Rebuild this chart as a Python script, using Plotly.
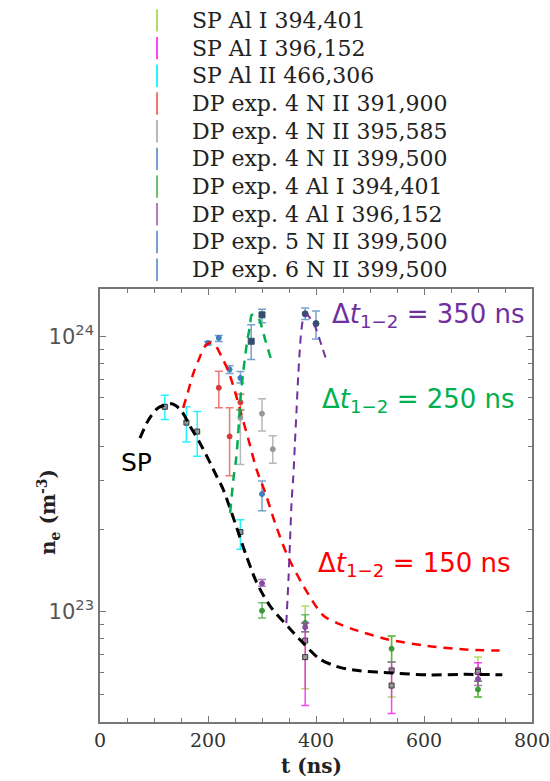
import plotly.graph_objects as go

# ---------------- data (t in ns, n_e in m^-3) ----------------
# SP Al I 394,401
sp_al1_394_t = [380, 540, 700]
sp_al1_394_n = [7.87e22, 6.13e22, 6.13e22]
sp_al1_394_hi = [1.05e23, 8.17e22, 6.85e22]
sp_al1_394_lo = [5.26e22, 4.91e22, 4.91e22]
# SP Al I 396,152
sp_al1_396_t = [380, 540, 700]
sp_al1_396_n = [6.85e22, 5.40e22, 6.05e22]
sp_al1_396_hi = [9.12e22, 6.57e22, 6.54e22]
sp_al1_396_lo = [4.57e22, 4.27e22, 5.60e22]
# SP Al II 466,306
sp_al2_466_t = [120, 160, 180, 260]
sp_al2_466_n = [5.56e23, 4.87e23, 4.52e23, 1.95e23]
sp_al2_466_hi = [6.12e23, 5.56e23, 5.34e23, 2.16e23]
sp_al2_466_lo = [5.00e23, 4.14e23, 3.68e23, 1.69e23]
# DP exp. 4 N II 391,900
dp4_n2_391_t = [220, 240, 260]
dp4_n2_391_n = [6.52e23, 4.34e23, 5.77e23]
dp4_n2_391_hi = [7.49e23, 5.52e23, 6.17e23]
dp4_n2_391_lo = [5.52e23, 3.12e23, 5.40e23]
# DP exp. 4 N II 395,585
dp4_n2_395_t = [260, 300, 320]
dp4_n2_395_n = [5.07e23, 5.25e23, 3.90e23]
dp4_n2_395_hi = [5.43e23, 5.95e23, 4.36e23]
dp4_n2_395_lo = [3.43e23, 4.54e23, 3.47e23]
# DP exp. 4 N II 399,500
dp4_n2_399_t = [200, 220, 240, 260, 300]
dp4_n2_399_n = [9.49e23, 9.89e23, 7.59e23, 7.08e23, 2.68e23]
dp4_n2_399_hi = [9.60e23, 1.01e24, 7.83e23, 7.47e23, 2.99e23]
dp4_n2_399_lo = [9.33e23, 9.60e23, 7.35e23, 6.78e23, 2.33e23]
# DP exp. 4 Al I 394,401
dp4_al1_394_t = [300, 380, 540, 700]
dp4_al1_394_n = [1.01e23, 9.12e22, 7.35e22, 5.23e22]
dp4_al1_394_hi = [1.08e23, 9.77e22, 8.17e22, 5.60e22]
dp4_al1_394_lo = [9.50e22, 8.47e22, 6.57e22, 4.91e22]
# DP exp. 4 Al I 396,152
dp4_al1_396_t = [300, 380, 700]
dp4_al1_396_n = [1.27e23, 8.80e22, 5.70e22]
dp4_al1_396_hi = [1.31e23, 9.12e22, 6.00e22]
dp4_al1_396_lo = [1.24e23, 8.47e22, 5.40e22]
# DP exp. 5 N II 399,500
dp5_n2_399_t = [280, 300]
dp5_n2_399_n = [9.62e23, 1.20e24]
dp5_n2_399_hi = [1.105e24, 1.256e24]
dp5_n2_399_lo = [8.26e23, 1.124e24]
# DP exp. 6 N II 399,500
dp6_n2_399_t = [380, 400]
dp6_n2_399_n = [1.21e24, 1.115e24]
dp6_n2_399_hi = [1.27e24, 1.24e24]
dp6_n2_399_lo = [1.153e24, 9.80e23]

# model curves
sp_curve_t = [74, 90, 108, 133, 150, 167, 185, 204, 216, 228, 250, 269, 290, 315,
              352, 370, 407, 444, 481, 540, 611, 673, 745]
sp_curve_n = [4.28e23, 4.99e23, 5.51e23, 5.70e23, 5.40e23, 4.72e23, 4.11e23, 3.48e23,
              3.11e23, 2.79e23, 2.11e23, 1.64e23, 1.28e23, 1.05e23, 8.67e22, 7.94e22,
              6.74e22, 6.29e22, 6.11e22, 6.00e22, 5.90e22, 5.93e22, 5.91e22]
dt150_t = [154, 164, 173, 184, 194, 204, 213, 225, 238, 250, 262, 275, 290, 306, 324,
           346, 377, 414, 444, 478, 531, 605, 685, 740]
dt150_n = [5.51e23, 6.41e23, 7.37e23, 8.35e23, 9.20e23, 9.50e23, 9.33e23, 8.47e23,
           7.47e23, 6.31e23, 5.20e23, 4.22e23, 3.29e23, 2.71e23, 2.11e23, 1.62e23,
           1.24e23, 9.68e22, 9.02e22, 8.53e22, 7.96e22, 7.53e22, 7.28e22, 7.24e22]
dt250_t = [241, 247, 252, 256, 260, 265, 272, 278, 281, 293, 306, 318]
dt250_n = [2.29e23, 3.03e23, 3.58e23, 4.47e23, 5.90e23, 7.37e23, 9.46e23, 1.10e24,
           1.20e24, 1.17e24, 9.73e23, 8.11e23]
dt350_t = [345, 349, 352, 355, 358, 361, 364, 367, 370, 373, 377, 383, 398, 411, 420]
dt350_n = [9.10e22, 1.31e23, 1.83e23, 2.56e23, 3.11e23, 4.11e23, 5.42e23, 7.16e23,
           8.95e23, 1.06e24, 1.17e24, 1.20e24, 1.09e24, 9.20e23, 8.13e23]

x_tick_vals = [0, 200, 400, 600, 800]
y_tick_vals = [1e23, 1e24]
y_tick_text = ["10<sup>23</sup>", "10<sup>24</sup>"]
y_minor_vals = [4e22, 5e22, 6e22, 7e22, 8e22, 9e22,
                2e23, 3e23, 4e23, 5e23, 6e23, 7e23, 8e23, 9e23]

# ---------------- figure ----------------
fig = go.Figure()

series = [
    ("SP Al I 394,401", sp_al1_394_t, sp_al1_394_n, sp_al1_394_hi, sp_al1_394_lo,
     "rgba(154,205,50,0.75)", "square", "#9a9a9a", "#333333", 5),
    ("SP Al I 396,152", sp_al1_396_t, sp_al1_396_n, sp_al1_396_hi, sp_al1_396_lo,
     "rgba(255,0,255,0.75)", "square", "#9a9a9a", "#333333", 5),
    ("SP Al II 466,306", sp_al2_466_t, sp_al2_466_n, sp_al2_466_hi, sp_al2_466_lo,
     "rgba(0,240,255,0.85)", "square", "#8a9a9a", "#333333", 5),
    ("DP exp. 4 N II 391,900", dp4_n2_391_t, dp4_n2_391_n, dp4_n2_391_hi, dp4_n2_391_lo,
     "rgba(230,60,60,0.7)", "circle", "#d43a3a", "#d43a3a", 5),
    ("DP exp. 4 N II 395,585", dp4_n2_395_t, dp4_n2_395_n, dp4_n2_395_hi, dp4_n2_395_lo,
     "rgba(160,160,160,0.75)", "circle", "#999999", "#999999", 5),
    ("DP exp. 4 N II 399,500", dp4_n2_399_t, dp4_n2_399_n, dp4_n2_399_hi, dp4_n2_399_lo,
     "rgba(70,130,190,0.75)", "circle", "#3f7fbf", "#3f7fbf", 5),
    ("DP exp. 4 Al I 394,401", dp4_al1_394_t, dp4_al1_394_n, dp4_al1_394_hi, dp4_al1_394_lo,
     "rgba(60,170,60,0.75)", "circle", "#3a9a3a", "#3a9a3a", 5),
    ("DP exp. 4 Al I 396,152", dp4_al1_396_t, dp4_al1_396_n, dp4_al1_396_hi, dp4_al1_396_lo,
     "rgba(150,80,170,0.75)", "circle", "#8a4aa0", "#8a4aa0", 5),
    ("DP exp. 5 N II 399,500", dp5_n2_399_t, dp5_n2_399_n, dp5_n2_399_hi, dp5_n2_399_lo,
     "rgba(70,130,190,0.75)", "square", "#34506e", "#34506e", 6),
    ("DP exp. 6 N II 399,500", dp6_n2_399_t, dp6_n2_399_n, dp6_n2_399_hi, dp6_n2_399_lo,
     "rgba(70,130,190,0.75)", "circle", "#34506e", "#34506e", 6),
]

for name, t, n, hi, lo, ecol, sym, mfill, mline, msize in series:
    fig.add_trace(go.Scatter(
        x=t, y=n, mode="markers", name=name, legendgroup=name, showlegend=False,
        marker=dict(symbol=sym, size=msize, color=mfill, line=dict(color=mline, width=1)),
        error_y=dict(type="data", symmetric=False,
                     array=[h - c for h, c in zip(hi, n)],
                     arrayminus=[c - l for c, l in zip(n, lo)],
                     color=ecol, thickness=1.5, width=4),
    ))
    # legend proxy (error-bar like symbol)
    fig.add_trace(go.Scatter(
        x=[None], y=[None], mode="markers", legendgroup=name,
        name='<span style="font-size:22px">' + name + '</span>',
        marker=dict(symbol="line-ns-open", size=16, color=ecol,
                    line=dict(color=ecol, width=2)),
    ))

curves = [
    (sp_curve_t, sp_curve_n, "black", 3, "10px,6px"),
    (dt150_t, dt150_n, "#ff0000", 2.5, "9px,7px"),
    (dt250_t, dt250_n, "#00b050", 2.5, "9px,7px"),
    (dt350_t, dt350_n, "#7030a0", 2, "8px,6px"),
]
for t, n, col, w, dash in curves:
    fig.add_trace(go.Scatter(x=t, y=n, mode="lines", showlegend=False,
                             line=dict(color=col, width=w, dash=dash, shape="spline",
                                       smoothing=0.8)))

ann_font = "DejaVu Sans, sans-serif"
fig.add_annotation(x=426, y=24.075, xanchor="left", yanchor="middle", showarrow=False,
                   text="Δ<i>t</i><sub>1−2</sub> = 350 ns",
                   font=dict(family=ann_font, size=26, color="#7030a0"))
fig.add_annotation(x=407, y=23.767, xanchor="left", yanchor="middle", showarrow=False,
                   text="Δ<i>t</i><sub>1−2</sub> = 250 ns",
                   font=dict(family=ann_font, size=26, color="#00b050"))
fig.add_annotation(x=400, y=23.173, xanchor="left", yanchor="middle", showarrow=False,
                   text="Δ<i>t</i><sub>1−2</sub> = 150 ns",
                   font=dict(family=ann_font, size=26, color="#ff0000"))
fig.add_annotation(x=67, y=23.542, xanchor="center", yanchor="middle", showarrow=False,
                   text="SP", font=dict(family=ann_font, size=25, color="black"))
# axis titles
fig.add_annotation(xref="paper", yref="paper", x=-0.118, y=0.485, textangle=-90,
                   xanchor="center", yanchor="middle", showarrow=False,
                   text="<b>n<sub>e</sub> (m<sup>-3</sup>)</b>",
                   font=dict(family="DejaVu Serif, serif", size=20, color="#222"))
fig.add_annotation(xref="paper", yref="paper", x=0.49, y=-0.1016,
                   xanchor="center", yanchor="middle", showarrow=False,
                   text="<b>t (ns)</b>",
                   font=dict(family="DejaVu Serif, serif", size=20, color="#222"))

axis_col = "#777"
fig.update_layout(
    width=550, height=781,
    margin=dict(l=100, r=18, t=289, b=59, autoexpand=False),
    paper_bgcolor="white", plot_bgcolor="white",
    showlegend=True,
    legend=dict(xref="container", yref="container", x=0.2218, y=0.998,
                xanchor="left", yanchor="top",
                font=dict(family="DejaVu Serif, serif", size=19, color="#222"),
                bgcolor="rgba(0,0,0,0)", itemwidth=60, tracegroupgap=0),
    xaxis=dict(range=[0, 800], tickvals=x_tick_vals, ticks="inside", ticklen=6,
               tickcolor=axis_col, showline=True, linecolor=axis_col, linewidth=1.5,
               mirror="ticks", showgrid=False, zeroline=False,
               ticklabeloverflow="allow",
               minor=dict(ticks="inside", ticklen=4, dtick=50, tickcolor=axis_col),
               tickfont=dict(family="DejaVu Serif, serif", size=19, color="#333")),
    yaxis=dict(type="log", range=[22.600, 24.173], tickvals=y_tick_vals,
               ticktext=y_tick_text,
               ticks="inside", ticklen=6, tickcolor=axis_col,
               showline=True, linecolor=axis_col, linewidth=1.5, mirror="ticks",
               showgrid=False, zeroline=False,
               minor=dict(tickmode="array", tickvals=y_minor_vals, ticks="inside",
                          ticklen=4, tickcolor=axis_col, showgrid=False),
               tickfont=dict(family="DejaVu Sans, sans-serif", size=21, color="#555")),
)

fig.write_html("out.html", config={"displayModeBar": False},
               post_script="document.body.style.margin='0px';document.body.style.padding='0px';")
